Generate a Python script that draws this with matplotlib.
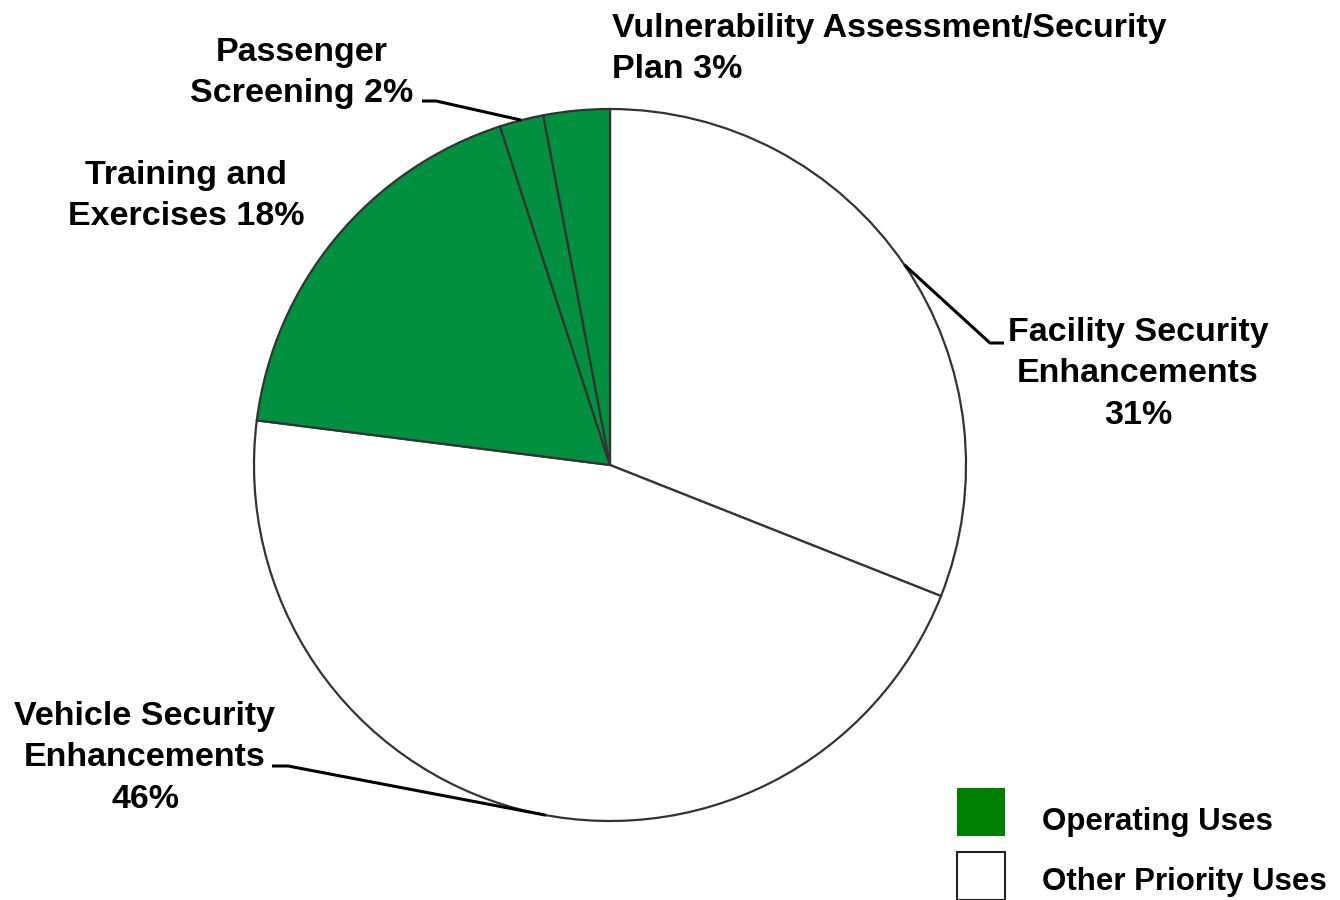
import numpy as np
import matplotlib
matplotlib.use("Agg")
import matplotlib.pyplot as plt
from matplotlib.patches import Rectangle

categories = ["Facility Security Enhancements", "Vehicle Security Enhancements",
              "Training and Exercises", "Passenger Screening",
              "Vulnerability Assessment/Security Plan"]
values = [31, 46, 18, 2, 3]
groups = ["Other Priority Uses", "Other Priority Uses", "Operating Uses",
          "Operating Uses", "Operating Uses"]
legend_labels = ["Operating Uses", "Other Priority Uses"]

pie_green = "#009040"
legend_green = "#008000"
edge = "#333333"
fill = {"Operating Uses": pie_green, "Other Priority Uses": "white"}

W, H = 1340, 900
fig = plt.figure(figsize=(W / 100, H / 100), dpi=100)
ax = fig.add_axes([0, 0, 1, 1])
ax.set_xlim(0, W)
ax.set_ylim(0, H)
ax.axis("off")

cx, cy, R = 610, H - 465, 356
wedges, _ = ax.pie(values, colors=[fill[g] for g in groups], startangle=90,
                   counterclock=False, center=(cx, cy), radius=R,
                   wedgeprops=dict(edgecolor=edge, linewidth=1.6))
ax.set_xlim(0, W)
ax.set_ylim(0, H)
ax.set_aspect("equal")

font = dict(family=["Liberation Sans", "DejaVu Sans"], fontweight="bold",
            fontsize=24.5, color="black")

def edge_pt(i, shift=0.0):
    w = wedges[i]
    a = np.deg2rad((w.theta1 + w.theta2) / 2 + shift)
    return cx + R * np.cos(a), cy + R * np.sin(a)

def leader(i, txt_pt, knee, shift=0.0):
    px, py = edge_pt(i, shift)
    ax.plot([txt_pt[0], knee[0], px], [H - txt_pt[1], H - knee[1], py],
            color="black", lw=2.2, solid_capstyle="butt", zorder=5)

ls = 1.42
# labels
ax.text(612, H - 49, "Vulnerability Assessment/Security\nPlan 3%", ha="left",
        va="center", linespacing=ls, **font)
ax.text(302, H - 73, "Passenger\nScreening 2%", ha="center", va="center",
        linespacing=ls, **font)
ax.text(186, H - 196, "Training and\nExercises 18%", ha="center", va="center",
        linespacing=ls, **font)
ax.text(1138, H - 374, "Facility Security\nEnhancements\n31%", ha="center",
        va="center", linespacing=ls, **font)
ax.text(145, H - 758, "Vehicle Security\nEnhancements\n46%", ha="center",
        va="center", linespacing=ls, **font)

leader(3, (422, 101), (436, 101))
leader(0, (1004, 343), (990, 343))
leader(1, (272, 766), (288, 766), shift=4.0)

# legend
lfont = dict(family=["Liberation Sans", "DejaVu Sans"], fontweight="bold",
             fontsize=22.5, color="black")
ax.add_patch(Rectangle((957, H - 836), 48, 48, facecolor=legend_green,
                       edgecolor="none"))
ax.add_patch(Rectangle((957, H - 900), 48, 48, facecolor="white",
                       edgecolor="#222222", lw=1.5))
ax.text(1042, H - 822, legend_labels[0], ha="left", va="center", **lfont)
ax.text(1042, H - 882, legend_labels[1], ha="left", va="center", **lfont)

fig.savefig("out.png", dpi=100, facecolor="white")
